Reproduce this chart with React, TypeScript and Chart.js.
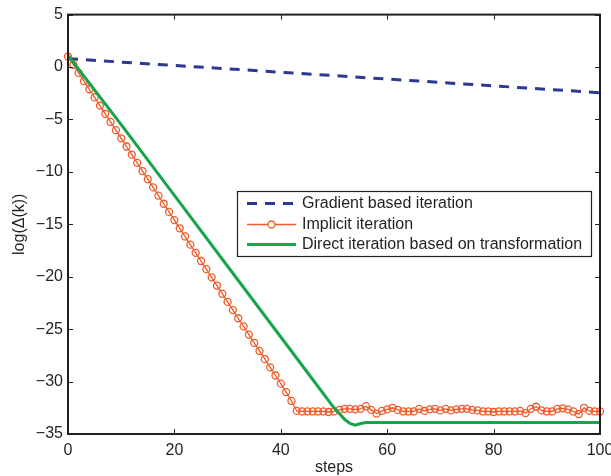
import React, { useEffect, useRef } from "react";
import { Chart, registerables } from "chart.js";

Chart.register(...registerables);

const FONT = "'Liberation Sans', Arial, Helvetica, sans-serif";
const INK = "#231F20";

// Gradient based iteration (dashed blue)
const gradientSteps = [0, 10, 20, 30, 40, 50, 60, 70, 80, 90, 100];
const gradientValues = [0.8, 0.47, 0.15, -0.17, -0.5, -0.82, -1.15, -1.47, -1.8, -2.12, -2.45];

// Implicit iteration (orange with circle markers), one value per step 0..100
const implicitValues = [
  1.0, 0.22, -0.56, -1.34, -2.12, -2.9, -3.68, -4.46, -5.24, -6.02,
  -6.8, -7.58, -8.36, -9.14, -9.92, -10.7, -11.48, -12.26, -13.04, -13.82,
  -14.6, -15.38, -16.16, -16.94, -17.72, -18.5, -19.28, -20.06, -20.84, -21.62,
  -22.4, -23.18, -23.96, -24.74, -25.52, -26.3, -27.08, -27.86, -28.64, -29.42,
  -30.2, -31.0, -31.85, -32.8, -32.85, -32.85, -32.85, -32.85, -32.85, -32.9,
  -32.85, -32.7, -32.6, -32.6, -32.65, -32.6, -32.35, -32.7, -33.05, -32.8,
  -32.65, -32.5, -32.7, -32.85, -32.85, -32.85, -32.6, -32.8, -32.65, -32.6,
  -32.75, -32.6, -32.75, -32.65, -32.6, -32.6, -32.7, -32.75, -32.85, -32.85,
  -32.9, -32.85, -32.85, -32.85, -32.85, -32.8, -33.0, -32.6, -32.4, -32.75,
  -32.85, -32.85, -32.6, -32.55, -32.65, -32.85, -33.1, -32.5, -32.8, -32.85,
  -32.85,
];
const implicitSteps = implicitValues.map((_, i) => i);

// Direct iteration based on transformation (solid green)
const directSteps = [0, 10, 20, 30, 40, 46, 50, 52, 53, 54, 55, 56, 60, 70, 80, 90, 100];
const directValues = [1.1, -5.5, -12.25, -19.0, -25.75, -29.8, -32.5, -33.6, -34.0, -34.15, -34.0, -33.9, -33.9, -33.9, -33.9, -33.9, -33.9];

const seriesLabels = [
  "Gradient based iteration",
  "Implicit iteration",
  "Direct iteration based on transformation",
];
const xTitle = "steps";
const yTitle = "log(\u0394(k))";

const COLORS = ["#2B3990", "#F15A29", "#16A64A"];

const framePlugin = {
  id: "frame",
  afterDatasetsDraw(chart: any) {
    const { ctx, chartArea: a, scales } = chart;
    ctx.save();
    // inward ticks on all four sides
    ctx.strokeStyle = INK;
    ctx.lineWidth = 1;
    const tl = 5;
    scales.x.ticks.forEach((t: any) => {
      const px = Math.round(scales.x.getPixelForValue(t.value)) + 0.5;
      ctx.beginPath();
      ctx.moveTo(px, a.bottom);
      ctx.lineTo(px, a.bottom - tl);
      ctx.moveTo(px, a.top);
      ctx.lineTo(px, a.top + tl);
      ctx.stroke();
    });
    scales.y.ticks.forEach((t: any) => {
      const py = Math.round(scales.y.getPixelForValue(t.value)) + 0.5;
      ctx.beginPath();
      ctx.moveTo(a.left, py);
      ctx.lineTo(a.left + tl, py);
      ctx.moveTo(a.right, py);
      ctx.lineTo(a.right - tl, py);
      ctx.stroke();
    });
    // axes box
    ctx.lineWidth = 2;
    ctx.strokeRect(a.left, a.top, a.right - a.left, a.bottom - a.top);

    // legend
    const lx = 237, ly = 191, lw = 354, lh = 65;
    ctx.fillStyle = "#ffffff";
    ctx.fillRect(lx, ly, lw, lh);
    ctx.lineWidth = 1.2;
    ctx.strokeStyle = INK;
    ctx.strokeRect(lx + 0.5, ly + 0.5, lw, lh);
    const rows = [203.5, 224.5, 244.5];
    chart.data.datasets.forEach((ds: any, i: number) => {
      const y = rows[i];
      ctx.save();
      ctx.strokeStyle = ds.borderColor;
      ctx.lineWidth = ds.borderWidth;
      ctx.setLineDash(ds.borderDash || []);
      ctx.beginPath();
      ctx.moveTo(247, y);
      ctx.lineTo(296, y);
      ctx.stroke();
      ctx.setLineDash([]);
      if (ds.pointRadius > 0) {
        ctx.lineWidth = ds.pointBorderWidth;
        ctx.beginPath();
        ctx.arc(271.5, y, ds.pointRadius, 0, Math.PI * 2);
        ctx.fillStyle = "#ffffff";
        ctx.fill();
        ctx.stroke();
      }
      ctx.restore();
      ctx.fillStyle = INK;
      ctx.font = `16px ${FONT}`;
      ctx.textBaseline = "middle";
      ctx.textAlign = "left";
      ctx.fillText(ds.label, 302, y + 0.5);
    });
    ctx.restore();
  },
};

export default function App() {
  const ref = useRef<HTMLCanvasElement | null>(null);

  useEffect(() => {
    if (!ref.current) return;
    const toPts = (xs: number[], ys: number[]) => xs.map((x, i) => ({ x, y: ys[i] }));
    const chart = new Chart(ref.current, {
      type: "line",
      data: {
        datasets: [
          {
            label: seriesLabels[0],
            data: toPts(gradientSteps, gradientValues),
            borderColor: COLORS[0],
            borderWidth: 3,
            borderDash: [10, 8],
            pointRadius: 0,
            pointBorderWidth: 0,
            fill: false,
            tension: 0,
            order: 3,
            clip: 6,
          } as any,
          {
            label: seriesLabels[1],
            data: toPts(implicitSteps, implicitValues),
            borderColor: COLORS[1],
            borderWidth: 1.3,
            pointRadius: 3.5,
            pointBorderWidth: 1.3,
            pointBorderColor: COLORS[1],
            pointBackgroundColor: "rgba(0,0,0,0)",
            fill: false,
            tension: 0,
            order: 2,
            clip: 6,
          } as any,
          {
            label: seriesLabels[2],
            data: toPts(directSteps, directValues),
            borderColor: COLORS[2],
            borderWidth: 3,
            pointRadius: 0,
            pointBorderWidth: 0,
            fill: false,
            tension: 0,
            order: 1,
            clip: 6,
          } as any,
        ],
      },
      options: {
        responsive: false,
        animation: false,
        layout: { padding: { left: 0, top: 14, right: 11, bottom: 0 } },
        plugins: { legend: { display: false }, tooltip: { enabled: false } },
        scales: {
          x: {
            type: "linear",
            min: 0,
            max: 100,
            grid: { display: false, drawTicks: false },
            border: { display: false },
            ticks: {
              stepSize: 20,
              padding: 7,
              color: INK,
              font: { family: FONT, size: 16 },
              maxRotation: 0,
            },
            title: {
              display: true,
              text: xTitle,
              color: INK,
              font: { family: FONT, size: 16 },
              padding: { top: 0, bottom: -1 },
            },
            afterFit: (s: any) => {
              s.height = 42;
              s.paddingLeft = 0;
              s.paddingRight = 0;
            },
          } as any,
          y: {
            type: "linear",
            min: -35,
            max: 5,
            grid: { display: false, drawTicks: false },
            border: { display: false },
            ticks: {
              stepSize: 5,
              padding: 5,
              color: INK,
              font: { family: FONT, size: 16 },
              callback: (v: any) => String(v).replace("-", "\u2212"),
            },
            title: {
              display: true,
              text: yTitle,
              color: INK,
              font: { family: FONT, size: 16 },
              padding: { top: 10, bottom: 0 },
            },
            afterFit: (s: any) => {
              s.width = 68;
            },
          } as any,
        },
      },
      plugins: [framePlugin],
    });
    return () => chart.destroy();
  }, []);

  return (
    <div style={{ position: "absolute", left: 0, top: 0, width: 611, height: 476, background: "#fff" }}>
      <canvas ref={ref} width={611} height={476} style={{ display: "block" }} />
    </div>
  );
}
